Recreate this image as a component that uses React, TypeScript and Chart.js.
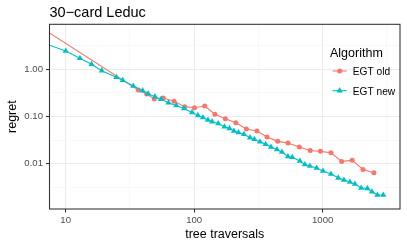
import React, { useEffect, useRef } from "react";
import { Chart, registerables } from "chart.js";

Chart.register(...registerables);

const chartTitle = "30−card Leduc";
const xTitle = "tree traversals";
const yTitle = "regret";
const legendTitle = "Algorithm";
const seriesNames = ["EGT old", "EGT new"];
const seriesColors = ["#F8766D", "#00BFC4"];

const oldX = [4, 36.7, 42.7, 48.9, 57.5, 69.7, 84.4, 100.5, 121, 145, 175, 211, 255, 308, 369, 447, 537, 658, 800, 961, 1161, 1406, 1698, 2061, 2506];
const oldY = [17.6, 0.364, 0.3, 0.235, 0.247, 0.21, 0.161, 0.154, 0.167, 0.112, 0.0898, 0.0739, 0.0543, 0.0493, 0.0368, 0.0298, 0.0275, 0.0226, 0.019, 0.0183, 0.0171, 0.0112, 0.0118, 0.00754, 0.00645];

const newX = [4, 10.0, 12.9, 15.9, 19.1, 24.8, 27.8, 33.6, 39.7, 43.9, 49.5, 55.2, 63.1, 72.6, 83.4, 96.2, 107, 117, 128, 138, 154, 172, 188, 204, 221, 244, 272, 294, 325, 360, 396, 441, 482, 537, 580, 665, 728, 796, 898, 1005, 1161, 1323, 1464, 1631, 1783, 1995, 2232, 2420, 2668, 2965];
const newY = [6.0, 2.44, 1.71, 1.28, 0.934, 0.677, 0.585, 0.443, 0.352, 0.304, 0.263, 0.233, 0.196, 0.171, 0.148, 0.122, 0.106, 0.0953, 0.0843, 0.0776, 0.0711, 0.0608, 0.0562, 0.0493, 0.0458, 0.042, 0.0356, 0.0329, 0.0292, 0.0258, 0.0226, 0.02, 0.0177, 0.0142, 0.0137, 0.0114, 0.00962, 0.00894, 0.00811, 0.007, 0.00605, 0.00503, 0.00452, 0.0041, 0.00372, 0.00306, 0.00301, 0.00255, 0.00217, 0.00217];

const xMajor = [10, 100, 1000];
const xMajorLabels = ["10", "100", "1000"];
const xMinor = [31.62, 316.2, 3162];
const yMajor = [0.01, 0.1, 1];
const yMajorLabels = ["0.01", "0.10", "1.00"];
const yMinor = [0.003162, 0.03162, 0.3162, 3.162];
const xRange = [7.48, 4000];
const yRange = [0.0011, 8.98];

const FONT = "'Liberation Sans', Arial, Helvetica, sans-serif";

function majorIndex(list: number[], v: number) {
  for (let i = 0; i < list.length; i++) {
    if (Math.abs(Math.log10(list[i]) - Math.log10(v)) < 1e-6) return i;
  }
  return -1;
}

function toPoints(xs: number[], ys: number[]) {
  return xs.map((x, i) => ({ x, y: ys[i] }));
}

function drawMarker(ctx: CanvasRenderingContext2D, kind: string, x: number, y: number, r: number, color: string) {
  ctx.save();
  ctx.fillStyle = color;
  ctx.beginPath();
  if (kind === "circle") {
    ctx.arc(x, y, r, 0, Math.PI * 2);
  } else {
    const h = r * 1.5;
    const w = r * Math.sqrt(3);
    ctx.moveTo(x, y - r);
    ctx.lineTo(x + w / 2, y - r + h);
    ctx.lineTo(x - w / 2, y - r + h);
    ctx.closePath();
  }
  ctx.fill();
  ctx.restore();
}

const decorPlugin = {
  id: "decor",
  afterDraw(chart: any) {
    const ctx: CanvasRenderingContext2D = chart.ctx;
    const a = chart.chartArea;
    ctx.save();
    ctx.strokeStyle = "#333333";
    ctx.lineWidth = 1.07;
    ctx.strokeRect(a.left, a.top, a.right - a.left, a.bottom - a.top);
    ctx.fillStyle = "#000000";
    ctx.font = `14.5px ${FONT}`;
    ctx.textAlign = "left";
    ctx.textBaseline = "alphabetic";
    ctx.fillText(chartTitle, a.left, 16.7);
    ctx.font = `12.5px ${FONT}`;
    ctx.textAlign = "center";
    ctx.fillText(xTitle, (a.left + a.right) / 2, 237.5);
    ctx.save();
    ctx.translate(15.5, (a.top + a.bottom) / 2);
    ctx.rotate(-Math.PI / 2);
    ctx.fillText(yTitle, 0, 0);
    ctx.restore();
    ctx.textAlign = "left";
    ctx.font = `12.5px ${FONT}`;
    ctx.fillText(legendTitle, 330, 56.7);
    ctx.font = `10.2px ${FONT}`;
    const rows = [71, 90.7];
    const kinds = ["circle", "triangle"];
    const radii = [2.5, 3.6];
    rows.forEach((yy, i) => {
      ctx.strokeStyle = seriesColors[i];
      ctx.lineWidth = 1.1;
      ctx.beginPath();
      ctx.moveTo(332.7, yy);
      ctx.lineTo(346.7, yy);
      ctx.stroke();
      drawMarker(ctx, kinds[i], 339.7, yy, radii[i], seriesColors[i]);
      ctx.fillStyle = "#000000";
      ctx.fillText(seriesNames[i], 352.7, yy + 4);
    });
    ctx.restore();
  },
};

function gridOpts(major: number[]) {
  return {
    color: (c: any) => (c.tick && majorIndex(major, c.tick.value) >= 0 ? "#EBEBEB" : "#F3F3F3"),
    lineWidth: (c: any) => (c.tick && majorIndex(major, c.tick.value) >= 0 ? 1.07 : 0.55),
    tickColor: (c: any) => (c.tick && majorIndex(major, c.tick.value) >= 0 ? "#333333" : "rgba(0,0,0,0)"),
    tickWidth: 1.07,
    tickLength: 3.5,
    drawOnChartArea: true,
    drawTicks: true,
  };
}

export default function App() {
  const ref = useRef<HTMLCanvasElement | null>(null);

  useEffect(() => {
    if (!ref.current) return;
    Chart.defaults.font.family = FONT;
    const chart = new Chart(ref.current, {
      type: "line",
      data: {
        datasets: [
          {
            label: seriesNames[0],
            data: toPoints(oldX, oldY),
            borderColor: seriesColors[0],
            backgroundColor: seriesColors[0],
            borderWidth: 1.1,
            pointStyle: "circle",
            pointRadius: 2.5,
            pointBorderWidth: 0,
            pointHoverRadius: 2.5,
            tension: 0,
            order: 1,
          },
          {
            label: seriesNames[1],
            data: toPoints(newX, newY),
            borderColor: seriesColors[1],
            backgroundColor: seriesColors[1],
            borderWidth: 1.1,
            pointStyle: "triangle",
            pointRadius: 3.6,
            pointBorderWidth: 0,
            pointHoverRadius: 3.6,
            tension: 0,
            order: 0,
          },
        ],
      },
      options: {
        animation: false,
        responsive: false,
        devicePixelRatio: 1,
        layout: { padding: { left: 0, right: 7, top: 24.3, bottom: 0 } },
        plugins: {
          legend: { display: false },
          title: { display: false },
          tooltip: { enabled: false },
        },
        scales: {
          x: {
            type: "logarithmic",
            min: xRange[0],
            max: xRange[1],
            afterBuildTicks: (s: any) => {
              s.ticks = [...xMajor, ...xMinor].sort((p, q) => p - q).map((v) => ({ value: v }));
            },
            afterFit: (s: any) => {
              s.height = 35;
            },
            ticks: {
              autoSkip: false,
              maxRotation: 0,
              minRotation: 0,
              padding: 2.5,
              color: "#4D4D4D",
              font: { size: 9.6, family: FONT },
              callback: (v: any) => {
                const i = majorIndex(xMajor, Number(v));
                return i >= 0 ? xMajorLabels[i] : "";
              },
            },
            grid: gridOpts(xMajor),
            border: { display: false },
          },
          y: {
            type: "logarithmic",
            min: yRange[0],
            max: yRange[1],
            afterBuildTicks: (s: any) => {
              s.ticks = [...yMajor, ...yMinor].sort((p, q) => p - q).map((v) => ({ value: v }));
            },
            afterFit: (s: any) => {
              s.width = 49.5;
            },
            ticks: {
              autoSkip: false,
              padding: 3,
              color: "#4D4D4D",
              font: { size: 9.6, family: FONT },
              callback: (v: any) => {
                const i = majorIndex(yMajor, Number(v));
                return i >= 0 ? yMajorLabels[i] : "";
              },
            },
            grid: gridOpts(yMajor),
            border: { display: false },
          },
        },
      },
      plugins: [decorPlugin],
    } as any);
    return () => chart.destroy();
  }, []);

  return (
    <div style={{ position: "absolute", left: 0, top: 0, width: 407, height: 244, background: "#ffffff" }}>
      <canvas ref={ref} width={407} height={244} style={{ width: 407, height: 244, display: "block" }} />
    </div>
  );
}
